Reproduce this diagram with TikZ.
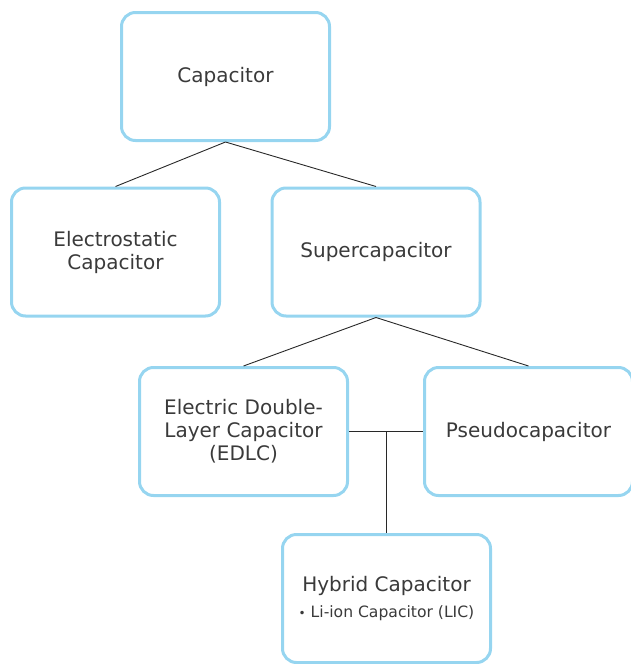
\documentclass[tikz,border=0pt]{standalone}
\usepackage{fontspec}
\setmainfont{DejaVu Sans}
\definecolor{boxblue}{RGB}{150,213,240}
\definecolor{txt}{RGB}{58,58,58}
\definecolor{ln}{RGB}{40,40,40}
\begin{document}
\begin{tikzpicture}[x=1pt,y=-1pt,
  box/.style={draw=boxblue,line width=3pt,rounded corners=14pt,minimum width=208pt,minimum height=128pt,inner sep=0pt,align=center,text=txt,font=\fontsize{20}{23}\selectfont},
  conn/.style={draw=ln,line width=0.9pt},
  lbl/.style={text=txt,inner sep=0pt,anchor=center}]
\useasboundingbox (0,0) rectangle (631,664);
\node[box] (cap) at (225.5,76.5) {Capacitor};
\node[box] (es) at (115.5,252) {Electrostatic\\Capacitor};
\node[box] (sc) at (376,252) {Supercapacitor};
\node[box] (edlc) at (243.5,431.5) {Electric Double-\\Layer Capacitor\\(EDLC)};
\node[box] (ps) at (528.5,431.5) {Pseudocapacitor};
\node[box] (hyb) at (386.5,598.5) {};
\node[lbl,font=\fontsize{20}{23}\selectfont] (hybt) at (386.5,586) {Hybrid Capacitor};
\node[lbl,font=\fontsize{15.6}{18}\selectfont] (hybl) at (386.5,613) {{\fontsize{12}{12}\selectfont\textbullet}\ Li-ion Capacitor (LIC)};
\draw[conn] (cap.south) -- (es.north);
\draw[conn] (cap.south) -- (sc.north);
\draw[conn] (sc.south) -- (edlc.north);
\draw[conn] (sc.south) -- (ps.north);
\draw[conn] (edlc.east) -- (ps.west);
\coordinate (j) at (hyb.north |- edlc.east);
\draw[conn] (j) -- (hyb.north);
\end{tikzpicture}
\end{document}
